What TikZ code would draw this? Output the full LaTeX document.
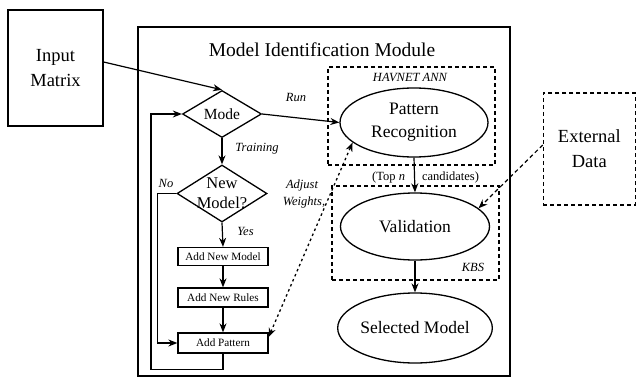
\documentclass[tikz,border=0pt]{standalone}
\usepackage{fontspec}
\setmainfont{Liberation Serif}
\usetikzlibrary{shapes.geometric,arrows.meta}
\begin{document}
\begin{tikzpicture}[x=1pt,y=-1pt,
  every node/.style={inner sep=0pt},
  tip/.style={-{Stealth[length=9pt,width=7pt]}},
  arr/.style={draw, line width=1.2pt, tip},
  dasharr/.style={draw, line width=1.2pt, dash pattern=on 4pt off 3pt, tip},
  dotarr/.style={draw, line width=1.3pt, dash pattern=on 2.5pt off 3pt,
    {Stealth[length=9pt,width=7pt]}-{Stealth[length=9pt,width=7pt]}},
  bigt/.style={font=\fontsize{17.5}{23}\selectfont},
  outt/.style={font=\fontsize{18.5}{25}\selectfont},
  smallt/.style={font=\fontsize{11.2}{13}\selectfont},
  lab/.style={font=\fontsize{12.5}{14}\selectfont\itshape},
  pbox/.style={draw, line width=1.3pt, minimum width=90pt, smallt},
  oval/.style={draw, ellipse, line width=1.3pt, bigt, align=center},
  dia/.style={draw, diamond, line width=1.3pt},
  dbox/.style={draw, line width=1.2pt, dash pattern=on 4pt off 3pt}]
\useasboundingbox (0,0) rectangle (637,377);

% outer module frame and its title
\node[draw, line width=1.7pt, minimum width=372pt, minimum height=349pt] (module) at (324,201.5) {};
\node[font=\fontsize{19.5}{21}\selectfont] (title) at (322,50) {Model Identification Module};

% inputs outside the module
\node[draw, line width=1.3pt, outt, align=center,
  minimum width=95pt, minimum height=116pt] (input) at (55.5,68) {Input\\Matrix};
\node[dbox, outt, align=center,
  minimum width=92pt, minimum height=112pt] (ext) at (589.3,149) {External\\Data};

% training branch
\node[dia, minimum width=79pt, minimum height=46pt, font=\fontsize{15.5}{17}\selectfont] (mode) at (222,114) {Mode};
\node[dia, minimum width=90pt, minimum height=57pt,
  label={[font=\fontsize{16.5}{20}\selectfont, align=center]center:New\\Model?}] (newm) at (222,193.5) {};
\node[pbox, minimum height=18pt] (addm) at (223,256.5) {Add New Model};
\node[pbox, minimum height=19pt] (addr) at (223,297.5) {Add New Rules};
\node[pbox, minimum height=20pt] (addp) at (223,343) {Add Pattern};

% recognition branch
\node[dbox, minimum width=167pt, minimum height=98pt] (hav) at (411.5,116) {};
\node[lab] (havlab) at (410,77) {HAVNET ANN};
\node[oval, minimum width=148pt, minimum height=69pt] (pat) at (414,122.5) {Pattern\\Recognition};
\node[dbox, minimum width=167pt, minimum height=94pt] (kbs) at (415.5,233) {};
\node[lab] (kbslab) at (473,267) {KBS};
\node[oval, minimum width=149pt, minimum height=67pt] (val) at (415,226.5) {Validation};
\node[oval, minimum width=150pt, minimum height=70pt] (sel) at (415,328) {Selected Model};

% edge labels
\node[lab] (run) at (296,97) {Run};
\node[lab] (train) at (257,148.5) {Training};
\node[lab] (no) at (166,183.5) {No};
\node[lab] (yes) at (245.5,231) {Yes};
\node[lab] (adj) at (302,185) {Adjust};
\node[lab] (wts) at (304,202) {Weights,};
\node[font=\fontsize{12.5}{14}\selectfont, anchor=west] (top) at (372,177) {(Top \textit{n}\hspace{17pt}candidates)};

% connectors
\coordinate (fb) at (151,114);
\draw[arr] ([yshift=6pt]input.east) -- (mode.north);
\draw[arr] (mode.east) -- (pat.west);
\draw[arr] (mode.south) -- (newm.north);
\draw[arr] (newm.south) -- (addm.north);
\draw[arr] (addm.south) -- (addr.north);
\draw[arr] (addr.south) -- (addp.north);
\draw[arr] (newm.west) -- ++(-19,0) |- (addp.west);
\draw[arr] (addp.south) -- ++(0,16) -| (fb) -- (mode.west);
\draw[arr] (pat.south) -- (val.north);
\draw[arr] (val.south) -- (sel.north);
\draw[dasharr] ([yshift=4pt]ext.west) -- (val.16);
\draw[dotarr] ([yshift=6pt]addp.east) -- (pat.198);
\end{tikzpicture}
\end{document}
